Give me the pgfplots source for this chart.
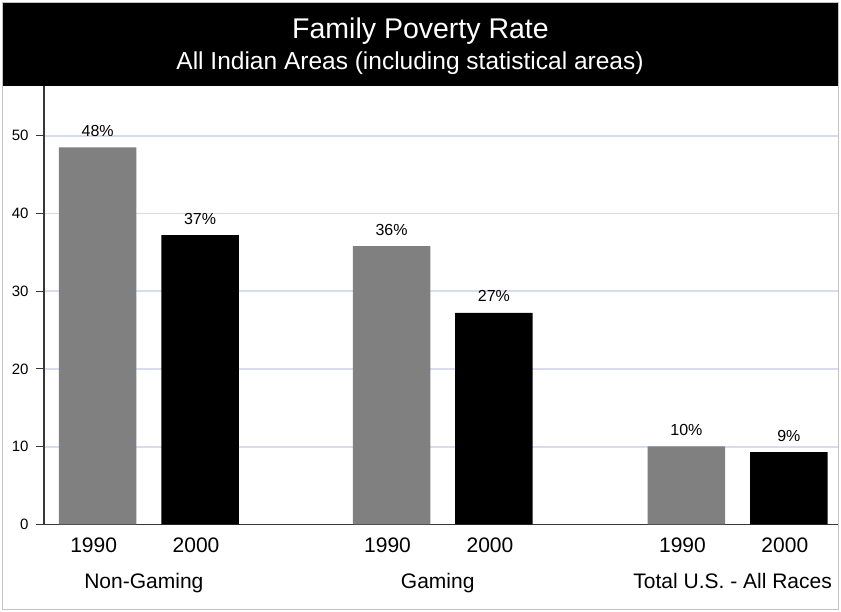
\documentclass[border=0pt]{standalone}
\usepackage{fontspec}
\setmainfont{Liberation Sans}
\usepackage{pgfplots}
\pgfplotsset{compat=1.18}
\usepackage{pgfplotstable}
\definecolor{barg}{RGB}{128,128,128}
\definecolor{gridc}{RGB}{216,220,238}
\definecolor{axc}{RGB}{55,55,55}
\definecolor{frc}{RGB}{195,195,195}

\pgfplotstableread{
x y lab
0 48.5 48
2.87 35.8 36
5.75 10.05 10
}\tableA
\pgfplotstableread{
x y lab
1 37.2 37
3.87 27.2 27
6.75 9.3 9
}\tableB

\begin{document}
\begin{tikzpicture}
\path[use as bounding box] (0pt,0pt) rectangle (841pt,612pt);
\fill[black] (2.5pt,526pt) rectangle (838.5pt,609.5pt);
\node[white, anchor=base, inner sep=0pt, font=\fontsize{28.5}{32}\selectfont] at (420.5pt,573pt) {Family Poverty Rate};
\node[white, anchor=base, inner sep=0pt, font=\fontsize{24.5}{28}\selectfont] at (410pt,542pt) {All Indian Areas (including statistical areas)};
\begin{axis}[
  at={(44pt,87.5pt)}, anchor=south west,
  scale only axis, width=794pt, height=438.5pt,
  xmin=-0.524, xmax=7.23, ymin=0, ymax=56.39,
  axis x line*=bottom, axis y line*=left,
  axis line style={axc, line width=1.3pt},
  ybar, bar width=77.5pt, bar shift=0pt,
  clip=false,
  ytick={0,10,...,50},
  ymajorgrids, grid style={gridc, line width=1.8pt},
  tick align=outside, major tick length=8pt,
  ytick style={axc, line width=1pt},
  xtick style={draw=none},
  /pgf/number format/assume math mode=true,
  yticklabel style={font=\fontsize{15}{18}\selectfont, xshift=-4pt},
  xtick={0,1,2.87,3.87,5.75,6.75},
  xticklabels={1990,2000,1990,2000,1990,2000},
  xticklabel style={font=\fontsize{21}{25}\selectfont, anchor=base, xshift=-4pt, yshift=-20pt},
  point meta=explicit symbolic,
  nodes near coords={\pgfplotspointmeta\%},
  every node near coord/.append style={font=\fontsize{16}{19}\selectfont, anchor=base, yshift=11pt, text=black},
]
\addplot[fill=barg, draw=none] table[x=x, y=y, meta=lab] {\tableA};
\addplot[fill=black, draw=none] table[x=x, y=y, meta=lab] {\tableB};
\node[anchor=base, font=\fontsize{21}{25}\selectfont, xshift=-5pt, yshift=-64.5pt] at (axis cs:0.5,0) {Non-Gaming};
\node[anchor=base, font=\fontsize{21}{25}\selectfont, xshift=-5pt, yshift=-64.5pt] at (axis cs:3.37,0) {Gaming};
\node[anchor=base, font=\fontsize{21}{25}\selectfont, xshift=-5pt, yshift=-64.5pt] at (axis cs:6.25,0) {Total U.S. - All Races};
\end{axis}
\draw[frc, line width=1.2pt] (2.5pt,2.5pt) rectangle (838.5pt,609.5pt);
\end{tikzpicture}
\end{document}
